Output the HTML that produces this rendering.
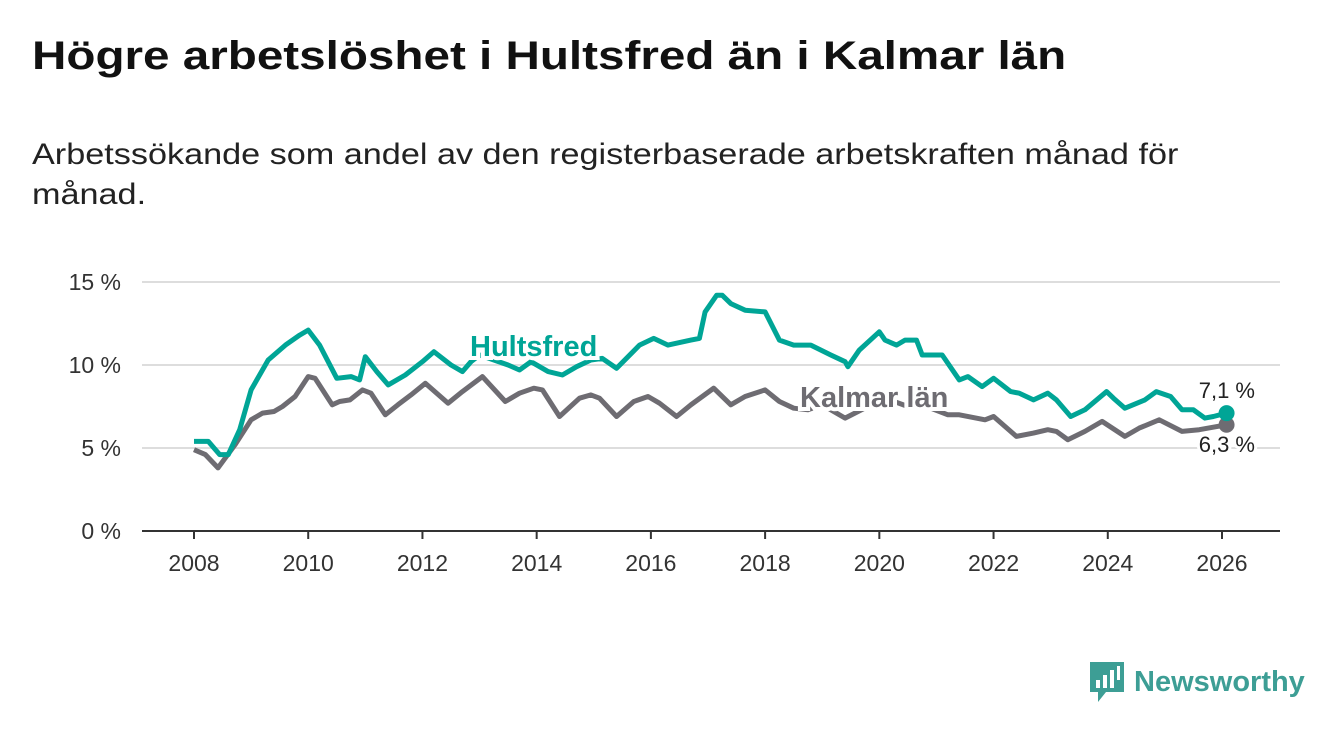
<!DOCTYPE html>
<html><head><meta charset="utf-8"><style>
body{margin:0;width:1340px;height:734px;background:#fff;font-family:"Liberation Sans",sans-serif;overflow:hidden}
h1{position:absolute;left:32px;top:34px;margin:0;font-size:40px;font-weight:bold;color:#111;transform:scaleX(1.19);transform-origin:left;white-space:nowrap}
.sub{position:absolute;left:32px;top:135px;font-size:30px;color:#222;line-height:40px;width:1050px;transform:scaleX(1.14);transform-origin:left}
svg{position:absolute;left:0;top:0}
</style></head><body>
<h1>Högre arbetslöshet i Hultsfred än i Kalmar län</h1>
<div class="sub">Arbetssökande som andel av den registerbaserade arbetskraften månad för månad.</div>
<svg width="1340" height="734" id="chart"></svg>
<div style="position:absolute;left:1088px;top:660px;display:flex;align-items:center">
<svg width="38" height="44" style="position:static"><path d="M2 2h34v30H18l-8 10v-10H2z" fill="#3d9e95"/><rect x="8" y="20" width="4" height="8" fill="#fff"/><rect x="15" y="15" width="4" height="13" fill="#fff"/><rect x="22" y="10" width="4" height="18" fill="#fff"/><rect x="29" y="6" width="3" height="14" fill="#fff"/></svg>
<span style="font-size:29px;font-weight:bold;color:#3d9e95;margin-left:8px">Newsworthy</span></div>
<script>
const yTicks=[0,5,10,15];
const xTicks=[2008,2010,2012,2014,2016,2018,2020,2022,2024,2026];
const hT=[2008.0,2008.25,2008.45,2008.6,2008.8,2009.0,2009.3,2009.6,2009.85,2010.0,2010.2,2010.5,2010.75,2010.9,2011.0,2011.2,2011.4,2011.7,2012.0,2012.2,2012.5,2012.7,2012.85,2013.0,2013.5,2013.7,2013.9,2014.2,2014.45,2014.7,2014.95,2015.15,2015.4,2015.8,2016.05,2016.3,2016.7,2016.85,2016.95,2017.15,2017.25,2017.4,2017.65,2018.0,2018.25,2018.5,2018.8,2019.15,2019.4,2019.45,2019.65,2020.0,2020.1,2020.3,2020.45,2020.65,2020.75,2021.1,2021.4,2021.55,2021.8,2022.0,2022.3,2022.45,2022.7,2022.95,2023.1,2023.35,2023.6,2023.98,2024.1,2024.3,2024.65,2024.85,2025.1,2025.3,2025.5,2025.7,2025.85,2026.08];
const hV=[5.4,5.4,4.6,4.6,6.1,8.5,10.3,11.2,11.8,12.1,11.2,9.2,9.3,9.1,10.5,9.6,8.8,9.4,10.2,10.8,10.0,9.6,10.2,10.6,10.0,9.7,10.2,9.6,9.4,9.9,10.3,10.4,9.8,11.2,11.6,11.2,11.5,11.6,13.2,14.2,14.2,13.7,13.3,13.2,11.5,11.2,11.2,10.6,10.2,9.9,10.9,12.0,11.5,11.2,11.5,11.5,10.6,10.6,9.1,9.3,8.7,9.2,8.4,8.3,7.9,8.3,7.9,6.9,7.3,8.4,8.0,7.4,7.9,8.4,8.1,7.3,7.3,6.8,6.9,7.1];
const kT=[2008.0,2008.2,2008.42,2008.72,2009.0,2009.2,2009.4,2009.55,2009.77,2010.0,2010.12,2010.42,2010.55,2010.73,2010.95,2011.1,2011.35,2011.57,2011.8,2012.05,2012.45,2012.7,2013.05,2013.45,2013.7,2013.95,2014.1,2014.4,2014.75,2014.95,2015.1,2015.4,2015.7,2015.95,2016.15,2016.45,2016.7,2017.1,2017.4,2017.65,2018.0,2018.25,2018.5,2018.75,2019.0,2019.4,2019.8,2020.1,2020.5,2020.9,2021.2,2021.4,2021.85,2022.0,2022.4,2022.7,2022.95,2023.1,2023.3,2023.6,2023.9,2024.3,2024.55,2024.9,2025.3,2025.6,2026.08];
const kV=[4.9,4.6,3.8,5.2,6.7,7.1,7.2,7.5,8.1,9.3,9.2,7.6,7.8,7.9,8.5,8.3,7.0,7.6,8.2,8.9,7.7,8.4,9.3,7.8,8.3,8.6,8.5,6.9,8.0,8.2,8.0,6.9,7.8,8.1,7.7,6.9,7.6,8.6,7.6,8.1,8.5,7.8,7.4,7.3,7.6,6.8,7.5,8.0,7.5,7.4,7.0,7.0,6.7,6.9,5.7,5.9,6.1,6.0,5.5,6.0,6.6,5.7,6.2,6.7,6.0,6.1,6.4];
const NS="http://www.w3.org/2000/svg",svg=document.getElementById('chart');
const X=t=>194+(t-2008)*(1222-194)/18, Y=v=>531-v*16.6;
function mk(tag,at){const e=document.createElementNS(NS,tag);for(const k in at)e.setAttribute(k,at[k]);svg.appendChild(e);return e;}
yTicks.forEach(v=>{
 const l=mk('line',{x1:142,x2:1280,y1:Y(v),y2:Y(v),stroke:v===0?'#333':'#ddd','stroke-width':2});
 
 
 const t=mk('text',{x:121,y:Y(v)+8,'text-anchor':'end','font-size':23,fill:'#333'});t.textContent=v+' %';
 
 
});
xTicks.forEach(y=>{
 const l=mk('line',{x1:X(y),x2:X(y),y1:531,y2:539,stroke:'#333','stroke-width':2});
 
 
 const t=mk('text',{x:X(y),y:571,'text-anchor':'middle','font-size':23,fill:'#333'});t.textContent=y;
 
 
});
function line(T,V,c,name){const d=T.map((t,i)=>(i?'L':'M')+X(t).toFixed(1)+' '+Y(V[i]).toFixed(1)).join('');
 const p=mk('path',{d,fill:'none',stroke:c,'stroke-width':5,'stroke-linejoin':'round'});
 
 
 const n=T.length-1;const e=mk('circle',{cx:X(T[n]),cy:Y(V[n]),r:8,fill:c});
 
 }
line(kT,kV,'#6e6c72','kalmar-line');
line(hT,hV,'#00a596','hultsfred-line');
function lab(x,y,s,c,name,w,anchor){const t=mk('text',{x,y,'font-size':w?29:22,'font-weight':w?'bold':'normal',fill:c,stroke:'#fff','stroke-width':w?8:6,'paint-order':'stroke','text-anchor':anchor||'start'});t.textContent=s;
 
 }
lab(470,356,'Hultsfred','#00a596','hultsfred-label',1);
lab(800,407,'Kalmar län','#6e6c72','kalmar-label',1);
lab(1255,398,'7,1 %','#222','hultsfred-end-value',0,'end');
lab(1255,452,'6,3 %','#222','kalmar-end-value',0,'end');
</script>
</body></html>
